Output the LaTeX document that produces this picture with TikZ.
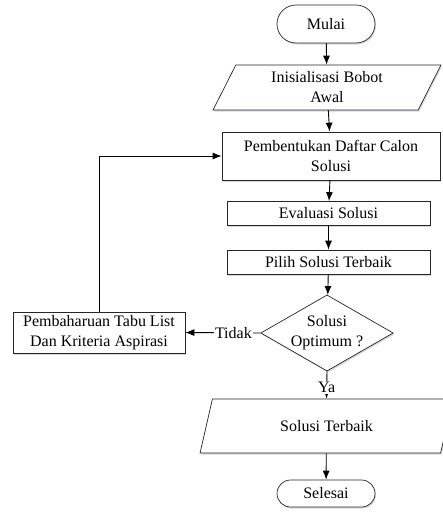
\documentclass[tikz,border=0pt]{standalone}
\usepackage{fontspec}
\setmainfont{Liberation Serif}
\usetikzlibrary{shadows}
\usetikzlibrary{positioning}
\usetikzlibrary{arrows.meta,shapes.geometric,shapes.misc}

\tikzset{
  txt/.style={font=\fontsize{16}{20}\selectfont, align=center, inner sep=0pt},
  shd/.style={drop shadow={shadow xshift=1pt, shadow yshift=-1.5pt, opacity=0.25, fill=blue!30!gray}},
  proc/.style={txt, draw=black!85, line width=0.7pt, fill=white, shd},
  term/.style={proc, rounded rectangle},
  io/.style={proc, trapezium, trapezium left angle=66, trapezium right angle=114, trapezium stretches=true},
  dec/.style={proc, diamond, aspect=1.74},
  flow/.style={line width=0.9pt, -{Latex[length=9pt,width=7pt]}},
  lbl/.style={txt, fill=white, inner sep=1pt}
}

\begin{document}
\begin{tikzpicture}[x=1pt, y=-1pt]
  \useasboundingbox (0,0) rectangle (442,517);

  %start / input
  \node[term, minimum width=98pt, minimum height=38pt] (mulai) at (326,24) {Mulai};
  \node[io, minimum width=228pt, minimum height=45pt] (init) at (327,87.5) {Inisialisasi Bobot\\Awal};
  \node[proc, minimum width=218pt, minimum height=48pt] (pemb) at (331,156) {Pembentukan Daftar Calon\\Solusi};

  %process steps
  \foreach \y/\txt/\name in {213.5/Evaluasi Solusi/eval, 262/Pilih Solusi Terbaik/pilih}{
    \node[proc, minimum width=203pt, minimum height=24pt] (\name) at (328.5,\y) {\txt};
  }

  %decision
  \node[dec, minimum width=129pt, minimum height=74pt] (cek) at (327,333) {Solusi\\Optimum ?};
  \node[proc, minimum width=172pt, minimum height=41pt] (upd) at (99,332.5) {Pembaharuan Tabu List\\Dan Kriteria Aspirasi};

  %output / end
  \node[io, minimum width=253pt, minimum height=54pt] (hasil) at (326.5,426) {Solusi Terbaik};
  \node[term, minimum width=98pt, minimum height=27pt] (selesai) at (326,493.5) {Selesai};

  %arrows
  \draw[flow] (mulai) -- (init);
  \draw[flow] (init) -- (pemb);
  \draw[flow] (pemb) -- (eval);
  \draw[flow] (eval) -- (pilih);
  \draw[flow] (pilih) -- (cek);
  \draw[flow] (cek.west) -- node[lbl, pos=0.36] (tidak) {Tidak} (upd.east);
  \draw[flow] (upd.north) |- (pemb.west);
  \draw[flow] (cek.south) -- node[lbl, pos=0.59] (ya) {Ya} (hasil.north);
  \draw[flow] (hasil) -- (selesai);

\end{tikzpicture}
\end{document}
